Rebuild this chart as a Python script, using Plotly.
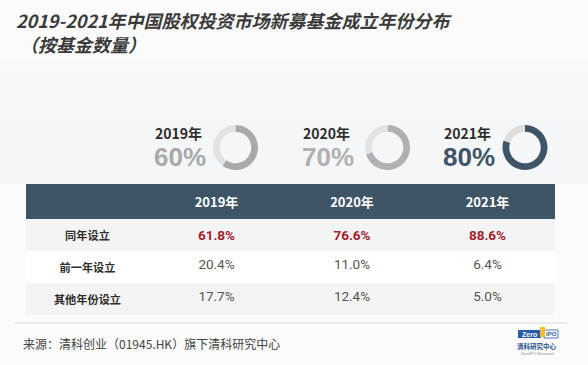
import plotly.graph_objects as go

W, H = 588, 365

# ---- data ----
title_line1 = "2019-2021年中国股权投资市场新募基金成立年份分布"
title_line2 = "（按基金数量）"
years = ["2019年", "2020年", "2021年"]
ring_pct = [60, 70, 80]
row_labels = ["同年设立", "前一年设立", "其他年份设立"]
same_year = [61.8, 76.6, 88.6]
prev_year = [20.4, 11.0, 6.4]
other_year = [17.7, 12.4, 5.0]
source_text = "来源：清科创业（01945.HK）旗下清科研究中心"

CJK = "Noto Sans CJK SC"
NUM = "Roboto"
NAVY = "#3e5467"
RED = "#a3212d"

fig = go.Figure()

# ---- donut rings ----
ring_centers = [(235.5, 147.5), (387.5, 147.5), (525, 147.5)]
ring_r = 22.5
ring_fill = ["#a9a9a9", "#b0b0b0", NAVY]
ring_rest = ["#e3e3e3", "#e3e3e3", "#dedede"]
for i, p in enumerate(ring_pct):
    cx, cy = ring_centers[i]
    fig.add_trace(go.Pie(
        values=[p, 100 - p], sort=False, direction="clockwise", rotation=0,
        hole=0.70, textinfo="none", hoverinfo="skip", showlegend=False,
        marker=dict(colors=[ring_fill[i], ring_rest[i]], line=dict(width=0)),
        domain=dict(x=[(cx - ring_r) / W, (cx + ring_r) / W],
                    y=[1 - (cy + ring_r) / H, 1 - (cy - ring_r) / H]),
    ))

# ---- table ----
def fmt(v):
    return f"{v:.1f}%"

col_values = [
    [f"<b>{r}</b>" for r in row_labels],
]
for j in range(3):
    col_values.append([f"<b>{fmt(same_year[j])}</b>", fmt(prev_year[j]), fmt(other_year[j])])

row_fill = ["#f4f4f5", "#ffffff", "#f4f4f5"]
fill_cols = [row_fill for _ in range(4)]
font_cols = [["#2e2e2e"] * 3] + [[RED, "#555555", "#555555"] for _ in range(3)]

tbl_top, tbl_bot = 184, 330
fig.add_trace(go.Table(
    domain=dict(x=[26 / W, 555 / W], y=[1 - tbl_bot / H, 1 - tbl_top / H]),
    columnwidth=[123, 135, 136, 135],
    header=dict(values=[""] + [f"<b>{y}</b>" for y in years],
                fill_color=NAVY, line=dict(color=NAVY, width=0),
                font=dict(family=CJK, size=13, color="white"),
                align="center", height=33),
    cells=dict(values=col_values,
               fill_color=fill_cols, line=dict(color="rgba(0,0,0,0)", width=0),
               font=dict(family=[CJK, NUM, NUM, NUM], size=[11.2, 13.5, 13.5, 13.5], color=font_cols),
               align="center", height=32),
))

annotations = []
# title
annotations.append(dict(text=title_line1, x=14 / W, y=1 - 20 / H, xref="paper", yref="paper",
                        xanchor="left", yanchor="middle", showarrow=False,
                        font=dict(family=CJK, size=18, color="#3b3b3b", weight="bold", style="italic")))
annotations.append(dict(text=title_line2, x=18 / W, y=1 - 44 / H, xref="paper", yref="paper",
                        xanchor="left", yanchor="middle", showarrow=False,
                        font=dict(family=CJK, size=18, color="#3b3b3b", weight="bold", style="italic")))

# ring labels
label_x = [153, 301, 442]
big_col = ["#a9a9a9", "#b0b0b0", NAVY]
for i in range(3):
    annotations.append(dict(text=f"<b>{years[i]}</b>", x=label_x[i] / W, y=1 - 133 / H,
                            xref="paper", yref="paper", xanchor="left", yanchor="middle",
                            showarrow=False, font=dict(family=CJK, size=14, color="#2e2e2e")))
    annotations.append(dict(text=f"<b>{ring_pct[i]}%</b>", x=(label_x[i] - 1) / W, y=1 - 157 / H,
                            xref="paper", yref="paper", xanchor="left", yanchor="middle",
                            showarrow=False, font=dict(family="Liberation Sans", size=26, color=big_col[i])))

# source
annotations.append(dict(text=source_text, x=21 / W, y=1 - 343 / H, xref="paper", yref="paper",
                        xanchor="left", yanchor="middle", showarrow=False,
                        font=dict(family=CJK, size=12, color="#444444")))

# logo texts
annotations.append(dict(text="<b>Zero</b>", x=529 / W, y=1 - 334 / H, xref="paper", yref="paper",
                        xanchor="center", yanchor="middle", showarrow=False,
                        font=dict(family="Liberation Sans", size=7, color="white")))
annotations.append(dict(text="<b>IPO</b>", x=551 / W, y=1 - 334 / H, xref="paper", yref="paper",
                        xanchor="center", yanchor="middle", showarrow=False,
                        font=dict(family="Liberation Sans", size=6, color="#2a5caa")))
annotations.append(dict(text="<b>清科研究中心</b>", x=537 / W, y=1 - 346 / H, xref="paper", yref="paper",
                        xanchor="center", yanchor="middle", showarrow=False,
                        font=dict(family=CJK, size=6.5, color="#2a4f8a")))
annotations.append(dict(text="ZeroIPO Research", x=537 / W, y=1 - 353 / H, xref="paper", yref="paper",
                        xanchor="center", yanchor="middle", showarrow=False,
                        font=dict(family="Liberation Sans", size=4, color="#888888")))

shapes = []
# soft grey gradient behind rings (stacked translucent bands)
band_edges = [60, 75, 90, 105, 120, 135, 150, 165, 184]
for k in range(len(band_edges) - 1):
    shapes.append(dict(type="rect", xref="paper", yref="paper", x0=0, x1=1,
                       y0=1 - band_edges[k + 1] / H, y1=1 - band_edges[k] / H,
                       fillcolor="#eceef1", line=dict(width=0), layer="below",
                       opacity=0.12 + 0.06 * min(k, 4)))
shapes += [
    # footer rule
    dict(type="line", xref="paper", yref="paper", x0=15 / W, x1=567 / W, y0=1 - 323 / H, y1=1 - 323 / H,
         line=dict(color="#d6d6d6", width=1)),
    # logo boxes
    dict(type="rect", xref="paper", yref="paper", x0=518 / W, x1=541 / W, y0=1 - 338 / H, y1=1 - 330 / H,
         fillcolor="#2a5caa", line=dict(width=0)),
    dict(type="rect", xref="paper", yref="paper", x0=544 / W, x1=558 / W, y0=1 - 338 / H, y1=1 - 330 / H,
         fillcolor="white", line=dict(color="#2a5caa", width=0.8)),
    dict(type="rect", xref="paper", yref="paper", x0=540 / W, x1=545 / W, y0=1 - 337 / H, y1=1 - 327 / H,
         fillcolor="#f0c030", line=dict(width=0)),
]

fig.update_layout(
    width=W, height=H, margin=dict(l=0, r=0, t=0, b=0),
    paper_bgcolor="#fbfbfb", plot_bgcolor="#fbfbfb",
    annotations=annotations, shapes=shapes, showlegend=False,
)

fig.write_html("out.html", config={"displayModeBar": False},
               post_script="document.body.style.margin='0';")
